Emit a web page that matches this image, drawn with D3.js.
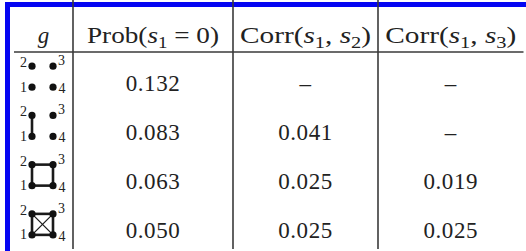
<!DOCTYPE html>
<html>
<head>
<meta charset="utf-8">
<script src="https://cdn.jsdelivr.net/npm/d3@7"></script>
<style>
  html, body { margin: 0; padding: 0; background: #fff; }
  svg { display: block; }
</style>
</head>
<body>
<svg id="chart" width="526" height="251"></svg>
<script>
// table contents
var rowIds = ["none", "edge", "square", "complete"];
var probS1 = ["0.132", "0.083", "0.063", "0.050"];
var corr12 = [null, "0.041", "0.025", "0.025"];
var corr13 = [null, null, "0.019", "0.025"];
// graph edges per row (node ids 1..4)
var graphEdges = [
  [],
  [[1, 2]],
  [[1, 2], [2, 3], [3, 4], [4, 1]],
  [[1, 2], [2, 3], [3, 4], [4, 1], [1, 3], [2, 4]]
];
var nodeIds = [1, 2, 3, 4];

var svg = d3.select("#chart")
    .attr("font-family", "'Liberation Serif', 'DejaVu Serif', 'Times New Roman', Times, serif"),
  left = 14, right = 523.5, top = 14, headBottom = 52, bottom = 249,
  colEdges = [left, 73, 233, 378, right],
  lineColor = "#3a3a3a",
  textColor = "#222";

// blue frame (top and left only)
svg.append("rect").attr("x", 5).attr("y", 2).attr("width", 521).attr("height", 5).attr("fill", "#0505f2");
svg.append("rect").attr("x", 5).attr("y", 2).attr("width", 5).attr("height", 249).attr("fill", "#0505f2");

var colCenter = function(i) { return (colEdges[i] + colEdges[i + 1]) / 2; };

var y = d3.scaleBand()
  .domain(rowIds)
  .range([headBottom, bottom]);

// grid
var grid = svg.append("g").attr("stroke", lineColor).attr("stroke-width", 1.6).attr("fill", "none");
grid.append("rect").attr("x", left).attr("y", top).attr("width", right - left).attr("height", bottom - top);
grid.append("line").attr("x1", left).attr("x2", right).attr("y1", headBottom).attr("y2", headBottom);
colEdges.slice(1, -1).forEach(function(x) {
  grid.append("line").attr("x1", x).attr("x2", x).attr("y1", top).attr("y2", bottom);
});

// header
var headBase = 43;
var header = svg.append("g").attr("font-size", 23).attr("fill", textColor);
header.append("text").attr("x", colCenter(0)).attr("y", headBase).attr("text-anchor", "middle")
  .attr("font-style", "italic").text("g");

var mathHead = function(i, parts, len) {
  var t = header.append("text").attr("x", colCenter(i)).attr("y", headBase).attr("text-anchor", "middle")
    .attr("textLength", len).attr("lengthAdjust", "spacingAndGlyphs");
  parts.forEach(function(p) {
    var ts = t.append("tspan").text(p.t);
    if (p.it) ts.attr("font-style", "italic");
    if (p.sub) ts.attr("font-size", 16).attr("dy", 5);
    if (p.up) ts.attr("dy", -5);
  });
};
mathHead(1, [{t: "Prob("}, {t: "s", it: true}, {t: "1", sub: true}, {t: " = 0)", up: true}], 132);
mathHead(2, [{t: "Corr("}, {t: "s", it: true}, {t: "1", sub: true}, {t: ", ", up: true},
  {t: "s", it: true}, {t: "2", sub: true}, {t: ")", up: true}], 131);
mathHead(3, [{t: "Corr("}, {t: "s", it: true}, {t: "1", sub: true}, {t: ", ", up: true},
  {t: "s", it: true}, {t: "3", sub: true}, {t: ")", up: true}], 131);

// value columns
var cols = [probS1, corr12, corr13];
cols.forEach(function(vals, ci) {
  svg.append("g").selectAll("text")
    .data(vals)
    .join("text")
    .attr("x", colCenter(ci + 1))
    .attr("y", function(d, i) { return y(rowIds[i]) + y.bandwidth() / 2 + 14; })
    .attr("text-anchor", "middle")
    .attr("font-size", 23)
    .attr("letter-spacing", 0.6)
    .attr("fill", textColor)
    .text(function(d) { return d === null ? "\u2013" : d; });
});

// small graph pictures
var nx = d3.scaleOrdinal().domain(nodeIds).range([32, 32, 53, 53]),
  ny = d3.scaleOrdinal().domain(nodeIds).range([10.5, -10.5, -10.5, 10.5]);
var labelPos = {
  1: {dx: -8.5, dy: 4.5},
  2: {dx: -8.5, dy: 1},
  3: {dx: 8.5, dy: -1},
  4: {dx: 9, dy: 6}
};

rowIds.forEach(function(id, ri) {
  var cy = y(id) + y.bandwidth() / 2,
    g = svg.append("g").attr("transform", "translate(0," + cy + ")");
  g.selectAll("line")
    .data(graphEdges[ri])
    .join("line")
    .attr("x1", function(e) { return nx(e[0]); })
    .attr("y1", function(e) { return ny(e[0]); })
    .attr("x2", function(e) { return nx(e[1]); })
    .attr("y2", function(e) { return ny(e[1]); })
    .attr("stroke", "#1a1a1a")
    .attr("stroke-width", function(e) { return Math.abs(e[0] - e[1]) === 2 ? 1.3 : 2.6; });
  g.selectAll("circle")
    .data(nodeIds)
    .join("circle")
    .attr("cx", nx)
    .attr("cy", ny)
    .attr("r", 3.6)
    .attr("fill", "#111");
  g.selectAll("text")
    .data(nodeIds)
    .join("text")
    .attr("x", function(d) { return nx(d) + labelPos[d].dx; })
    .attr("y", function(d) { return ny(d) + labelPos[d].dy; })
    .attr("text-anchor", "middle")
    .attr("font-size", 14)
    .attr("fill", textColor)
    .text(function(d) { return d; });
});
</script>
</body>
</html>
